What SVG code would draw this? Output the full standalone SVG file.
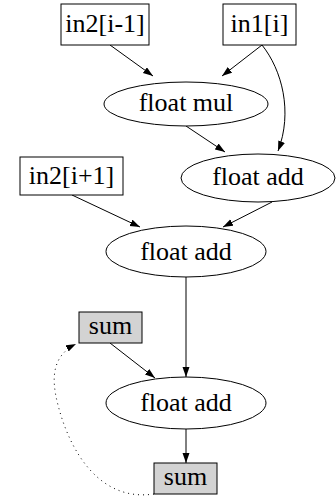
<svg xmlns="http://www.w3.org/2000/svg" width="336" height="504" viewBox="0 0 336 504">
<style>
text{font-family:'Liberation Serif','Times New Roman',serif;font-size:26px;fill:#000;text-anchor:middle}
.n{fill:#fff;stroke:#000;stroke-width:1}
.g{fill:#d3d3d3;stroke:#000;stroke-width:1}
.e{fill:none;stroke:#000;stroke-width:1;marker-end:url(#ah)}
.d{fill:none;stroke:#000;stroke-width:1;stroke-dasharray:1 4;marker-end:url(#ah)}
</style>
<defs>
<marker id="ah" markerUnits="userSpaceOnUse" markerWidth="11" markerHeight="8" refX="10" refY="3.5" orient="auto">
<path d="M0,0 L10,3.5 L0,7 z" fill="#000"/>
</marker>
</defs>
<rect width="336" height="504" fill="#fff"/>
<g id="edges">
<line class="e" x1="110" y1="45" x2="153" y2="76"/>
<line class="e" x1="262" y1="45" x2="222" y2="76"/>
<path class="e" d="M262,45 C282,70 293,112 278,151"/>
<line class="e" x1="186" y1="126" x2="225" y2="152"/>
<line class="e" x1="72" y1="195" x2="140" y2="227"/>
<line class="e" x1="272" y1="202" x2="223" y2="227"/>
<line class="e" x1="186" y1="277" x2="186" y2="377"/>
<line class="e" x1="110" y1="343" x2="155" y2="378"/>
<line class="e" x1="186" y1="429" x2="186" y2="463"/>
<path class="d" d="M154,494 C100,502 70,452 58,405 C50,375 54,355 76,344"/>
</g>
<g id="in2_im1"><rect class="n" x="61" y="4" width="88" height="41"/><text x="105" y="32">in2[i-1]</text></g>
<g id="in1_i"><rect class="n" x="223" y="4" width="73" height="41"/><text x="259.5" y="32">in1[i]</text></g>
<g id="fmul"><ellipse class="n" cx="186" cy="104" rx="82" ry="22"/><text x="186" y="111">float mul</text></g>
<g id="fadd1"><ellipse class="n" cx="258" cy="178" rx="77" ry="24"/><text x="258" y="185">float add</text></g>
<g id="in2_ip1"><rect class="n" x="20" y="157" width="103" height="38"/><text x="71.5" y="184">in2[i+1]</text></g>
<g id="fadd2"><ellipse class="n" cx="186" cy="251.5" rx="80" ry="25.5"/><text x="186" y="260">float add</text></g>
<g id="sum1"><rect class="g" x="79" y="312" width="63" height="31"/><text x="110.5" y="334">sum</text></g>
<g id="fadd3"><ellipse class="n" cx="186" cy="403" rx="80" ry="26"/><text x="186" y="411">float add</text></g>
<g id="sum2"><rect class="g" x="154" y="463" width="63" height="31"/><text x="185.5" y="485">sum</text></g>
</svg>
